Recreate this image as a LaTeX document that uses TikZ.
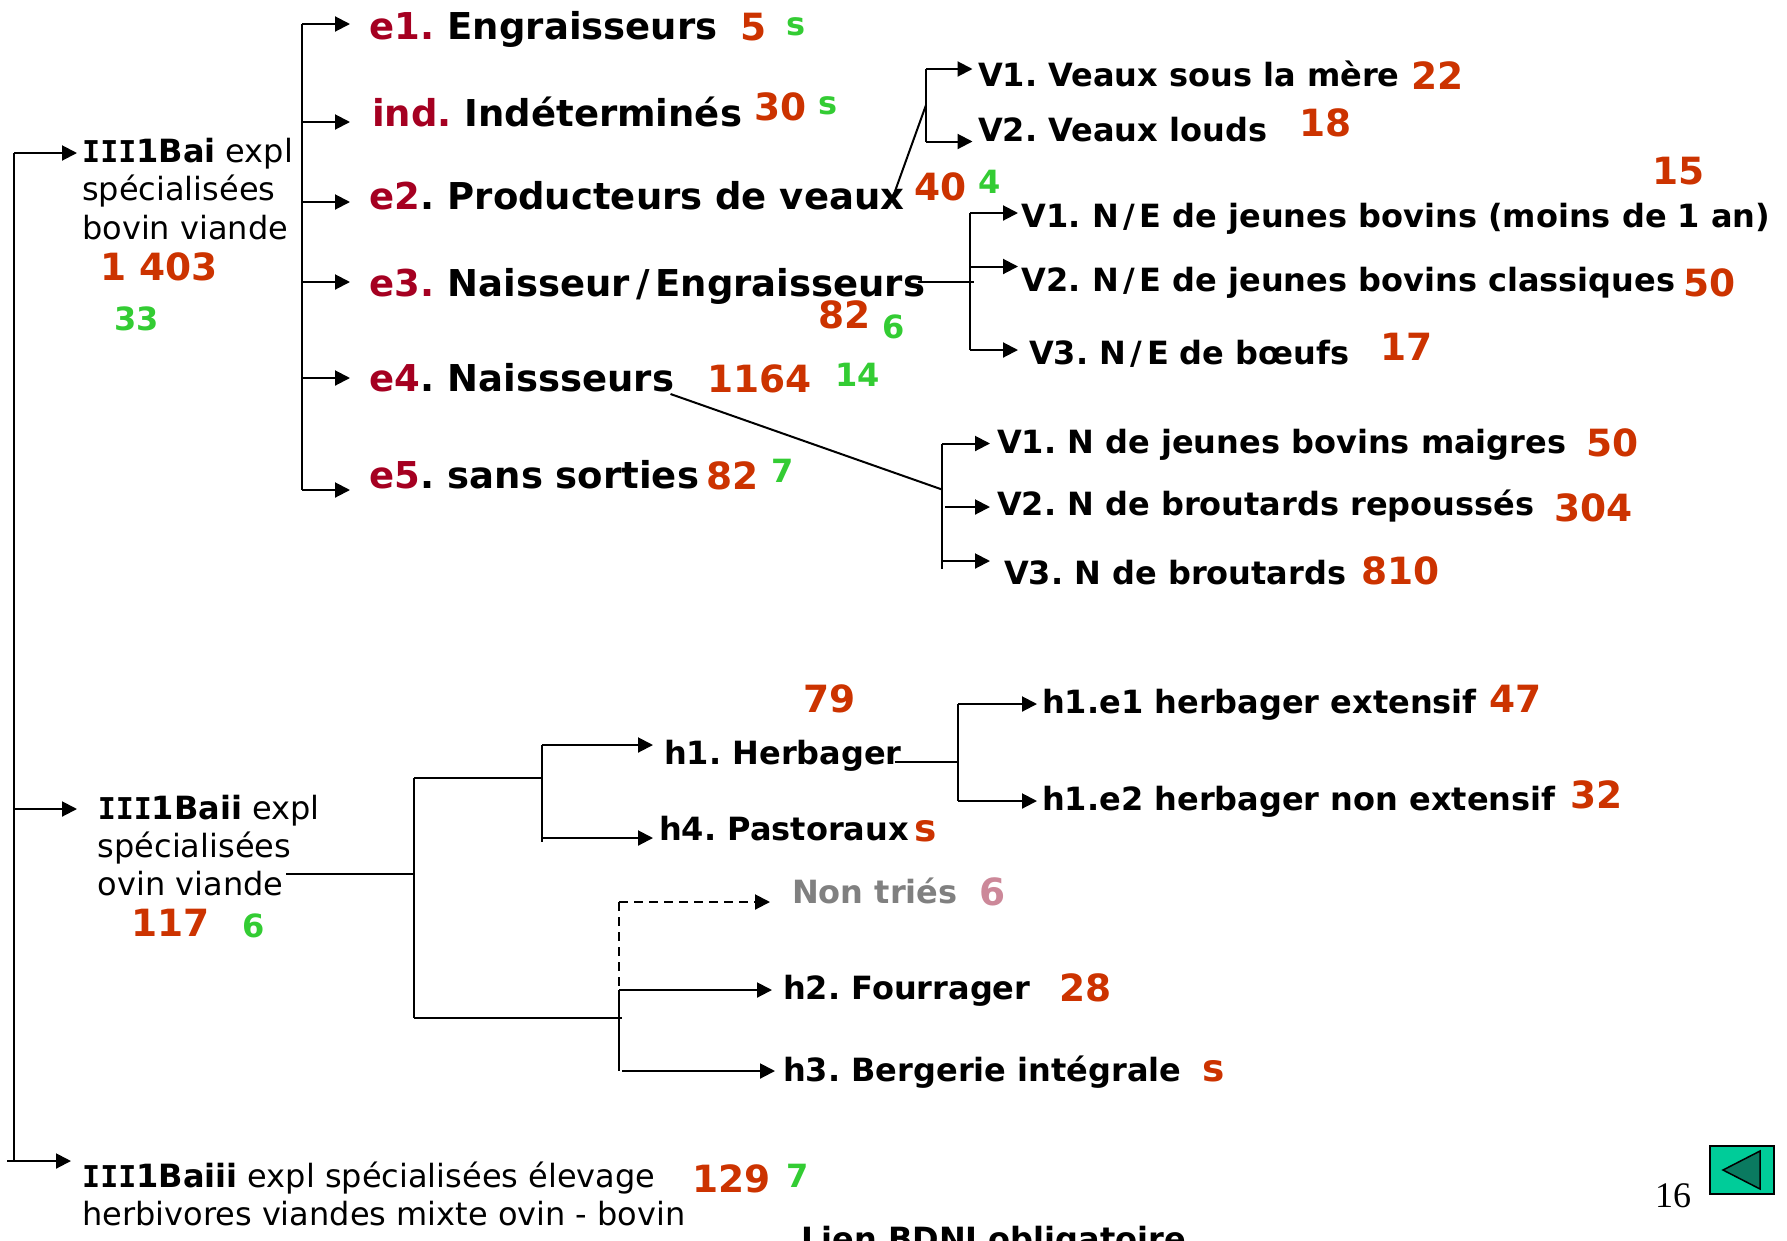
\documentclass[tikz,border=0pt]{standalone}
\usepackage{fontspec}
\setmainfont{DejaVu Sans}
\newfontfamily\pagefont{Liberation Serif}
\newfontfamily\slabfont{DejaVu Sans Mono}
\usetikzlibrary{arrows.meta}
\definecolor{prefred}{HTML}{A50021}
\definecolor{numred}{HTML}{CC3300}
\definecolor{numgreen}{HTML}{33CC33}
\definecolor{nontrie}{HTML}{808080}
\definecolor{nonpink}{HTML}{CC8899}
\definecolor{btnfill}{HTML}{00CC99}
\definecolor{btntri}{HTML}{0A7A60}
\tikzset{ txt/.style = { anchor     = base west
                       , inner sep  = 0pt
                       },
          big/.style = { txt
                       , font = \fontsize{37}{38}\selectfont\bfseries\frenchspacing
                       },
          lab/.style = { txt
                       , font = \fontsize{32}{38}\selectfont\bfseries\frenchspacing
                       },
          para/.style = { txt
                       , align = left
                       , font  = \fontsize{32}{38.3}\selectfont\frenchspacing
                       },
          nbr/.style = { txt
                       , text = numred
                       , font = \fontsize{37.5}{38}\selectfont\bfseries
                       },
          grn/.style = { txt
                       , text = numgreen
                       , font = \fontsize{32}{38}\selectfont\bfseries
                       },
          lin/.style = { draw = black
                       , line width = 2pt
                       },
          arr/.style = { lin
                       , -{Triangle[length=15pt,width=15pt]}
                       },
          dsh/.style = { dash pattern = on 9pt off 6pt
                       }
        }
\newcommand{\pref}[1]{\textcolor{prefred}{#1}}
\newcommand{\slab}[1]{\textbf{{\fontsize{30}{38}\selectfont\slabfont\bfseries III}#1}}
\newcommand{\sep}{\kern4.5pt/\kern4.5pt}

\begin{document}
\begin{tikzpicture}[x=1pt,y=-1pt]
    \useasboundingbox (0,0) rectangle (1787,1240);

    % left column
    \node[para] (bai) at (82,239) {\slab{1Bai} expl\\spécialisées\\bovin viande};
    \node[nbr] (baiN) at (100,280.6) {1 403};
    \node[grn] (baiS) at (114,330) {33};
    \node[para] (baii) at (97.6,895.6) {\slab{1Baii} expl\\spécialisées\\ovin viande};
    \node[nbr] (baiiN) at (131,936.6) {117};
    \node[grn] (baiiS) at (242,937.7) {6};
    \node[para] (baiii) at (82,1225.5) {\slab{1Baiii} expl spécialisées élevage\\herbivores viandes mixte ovin - bovin};
    \node[nbr] (baiiiN) at (692,1192) {129};
    \node[grn] (baiiiS) at (786.5,1187) {7};

    % e classes
    \node[big] (e1) at (369.7,39.5) {\pref{e1.} Engraisseurs};
    \node[nbr] (e1N) at (740,40) {5};
    \node[grn] (e1S) at (786.5,35) {s};
    \node[big] (ind) at (372,126.5) {\pref{ind.} Indéterminés};
    \node[nbr] (indN) at (754,120.5) {30};
    \node[grn] (indS) at (818,114.6) {s};
    \node[big] (e2) at (369.7,209.5) {\pref{e2}. Producteurs de veaux};
    \node[nbr] (e2N) at (914,200.8) {40};
    \node[grn] (e2S) at (978,193.7) {4};
    \node[big] (e3) at (369.7,296) {\pref{e3.} Naisseur\kern6pt/\kern6pt Engraisseurs};
    \node[nbr] (e3N) at (818,328) {82};
    \node[grn] (e3S) at (882,338) {6};
    \node[big] (e4) at (369.7,391) {\pref{e4}. Naissseurs};
    \node[nbr] (e4N) at (707,392) {1164};
    \node[grn] (e4S) at (835,386.5) {14};
    \node[big] (e5) at (369.7,488) {\pref{e5}. sans sorties};
    \node[nbr] (e5N) at (706,489) {82};
    \node[grn] (e5S) at (771,482) {7};

    % e2 detail
    \node[lab] (vA) at (978,86) {V1. Veaux sous la mère};
    \node[nbr] (vAN) at (1411,89) {22};
    \node[lab] (vB) at (978,141) {V2. Veaux louds};
    \node[nbr] (vBN) at (1299.5,136.4) {18};

    % e3 detail
    \node[nbr] (neAN) at (1652,184.6) {15};
    \node[lab] (neA) at (1021.7,227) {V1. N\sep E de jeunes bovins (moins de 1 an)};
    \node[lab] (neB) at (1021.7,291) {V2. N\sep E de jeunes bovins classiques};
    \node[nbr] (neBN) at (1683,296.4) {50};
    \node[lab] (neC) at (1029,364.4) {V3. N\sep E de bœufs};
    \node[nbr] (neCN) at (1380,360.5) {17};

    % e4 detail
    \node[lab] (nA) at (997,453.7) {V1. N de jeunes bovins maigres};
    \node[nbr] (nAN) at (1586,456.5) {50};
    \node[lab] (nB) at (997,515.8) {V2. N de broutards repoussés};
    \node[nbr] (nBN) at (1554,521) {304};
    \node[lab] (nC) at (1004,584) {V3. N de broutards};
    \node[nbr] (nCN) at (1361,584.2) {810};

    % h classes
    \node[nbr] (h1N) at (803,712.7) {79};
    \node[lab] (h1) at (664,764) {h1. Herbager};
    \node[lab] (h4) at (659,840) {h4. Pastoraux};
    \node[nbr] (h4N) at (914.7,841) {s};
    \node[lab, text=nontrie] (nt) at (792,903) {Non triés};
    \node[nbr, text=nonpink] (ntN) at (979,905) {6};
    \node[lab] (h2) at (783,999.7) {h2. Fourrager};
    \node[nbr] (h2N) at (1059.5,1001) {28};
    \node[lab] (h3) at (783,1081) {h3. Bergerie intégrale};
    \node[nbr] (h3N) at (1202,1081) {s};
    \node[lab] (hA) at (1042,713.5) {h1.e1 herbager extensif};
    \node[nbr] (hAN) at (1489,712.7) {47};
    \node[lab] (hB) at (1042,810) {h1.e2 herbager non extensif};
    \node[nbr] (hBN) at (1570,808.4) {32};

    \node[lab] (lien) at (801,1250) {Lien BDNI obligatoire};
    \node[txt, font=\fontsize{36}{38}\selectfont\pagefont] (num) at (1655,1207) {16};
    \node[draw=black, line width=2pt, fill=btnfill, minimum width=64pt, minimum height=48pt, inner sep=0pt] (btn) at (1742,1169.5) {};
    \draw[draw=black, fill=btntri, line width=1.5pt] (1723,1170) -- (1760,1151) -- (1760,1189) -- cycle;

    % junctions
    \coordinate (mT) at (14,153);
    \coordinate (mM) at (14,809);
    \coordinate (mB) at (14,1161);
    \coordinate (mL) at (7,1161);
    \coordinate (eT) at (302,24);
    \coordinate (eI) at (302,122);
    \coordinate (eC) at (302,202);
    \coordinate (eD) at (302,282);
    \coordinate (eF) at (302,378);
    \coordinate (eB) at (302,490);
    \coordinate (vT) at (926,69);
    \coordinate (vO) at (926,105);
    \coordinate (vE) at (894,194);
    \coordinate (vL) at (926,141.5);
    \coordinate (neT) at (970,213);
    \coordinate (neM) at (970,266.5);
    \coordinate (neL) at (970,350);
    \coordinate (neX) at (918,282);
    \coordinate (neY) at (974,282);
    \coordinate (nT) at (942,443.5);
    \coordinate (nO) at (942,489.5);
    \coordinate (nE) at (670.5,394);
    \coordinate (nM) at (945,507);
    \coordinate (nL) at (942,561);
    \coordinate (nB1) at (942,569);
    \coordinate (hS) at (286,874);
    \coordinate (hJ) at (414,874);
    \coordinate (hT) at (414,778);
    \coordinate (hU) at (414,1018);
    \coordinate (hV) at (542,778);
    \coordinate (hVT) at (542,745);
    \coordinate (hVB) at (542,838);
    \coordinate (hVE) at (542,842);
    \coordinate (hW) at (622,1018);
    \coordinate (hX) at (619,902);
    \coordinate (hY) at (619,990);
    \coordinate (hZ) at (619,1071);
    \coordinate (hZa) at (622,1071);
    \coordinate (hE) at (894.5,762);
    \coordinate (hF) at (958,762);
    \coordinate (hG) at (958,704);
    \coordinate (hH) at (958,801);

    % connectors
    \draw[lin] (mT) -- (mB);
    \draw[arr, shorten >=5pt] (mT) -- (mT -| bai.west);
    \draw[arr, shorten >=20.6pt] (mM) -- (mM -| baii.west);
    \draw[arr, shorten >=11pt] (mL) -- (mL -| baiii.west);

    \draw[lin] (eT) -- (eB);
    \draw[arr, shorten >=19.7pt] (eT) -- (eT -| e1.west);
    \draw[arr, shorten >=22pt] (eI) -- (eI -| ind.west);
    \draw[arr, shorten >=19.7pt] (eC) -- (eC -| e2.west);
    \draw[arr, shorten >=19.7pt] (eD) -- (eD -| e3.west);
    \draw[arr, shorten >=19.7pt] (eF) -- (eF -| e4.west);
    \draw[arr, shorten >=19.7pt] (eB) -- (eB -| e5.west);

    \draw[lin] (vT) -- (vL);
    \draw[lin] (vE) -- (vO);
    \draw[arr, shorten >=5.5pt] (vT) -- (vT -| vA.west);
    \draw[arr, shorten >=5.5pt] (vL) -- (vL -| vB.west);

    \draw[lin] (neT) -- (neL);
    \draw[lin] (neX) -- (neY);
    \draw[arr, shorten >=3.7pt] (neT) -- (neT -| neA.west);
    \draw[arr, shorten >=3.7pt] (neM) -- (neM -| neB.west);
    \draw[arr, shorten >=11pt] (neL) -- (neL -| neC.west);

    \draw[lin] (nT) -- (nB1);
    \draw[lin] (nE) -- (nO);
    \draw[arr, shorten >=7pt] (nT) -- (nT -| nA.west);
    \draw[arr, shorten >=7pt] (nM) -- (nM -| nB.west);
    \draw[arr, shorten >=14pt] (nL) -- (nL -| nC.west);

    \draw[lin] (hS) -- (hJ);
    \draw[lin] (hT) -- (hU);
    \draw[lin] (hT) -- (hV);
    \draw[lin] (hVT) -- (hVE);
    \draw[arr, shorten >=11pt] (hVT) -- (hVT -| h1.west);
    \draw[arr, shorten >=6pt] (hVB) -- (hVB -| h4.west);
    \draw[lin] (hU) -- (hW);
    \draw[lin] (hY) -- (hZ);
    \draw[lin, dsh, line width=1.5pt] (hX) -- (hY);
    \draw[arr, dsh, shorten >=22pt] (hX) -- (hX -| nt.west);
    \draw[arr, shorten >=11pt] (hY) -- (hY -| h2.west);
    \draw[arr, shorten >=8pt] (hZa) -- (hZa -| h3.west);

    \draw[lin] (hE) -- (hF);
    \draw[lin] (hG) -- (hH);
    \draw[arr, shorten >=5pt] (hG) -- (hG -| hA.west);
    \draw[arr, shorten >=5pt] (hH) -- (hH -| hB.west);
\end{tikzpicture}
\end{document}
